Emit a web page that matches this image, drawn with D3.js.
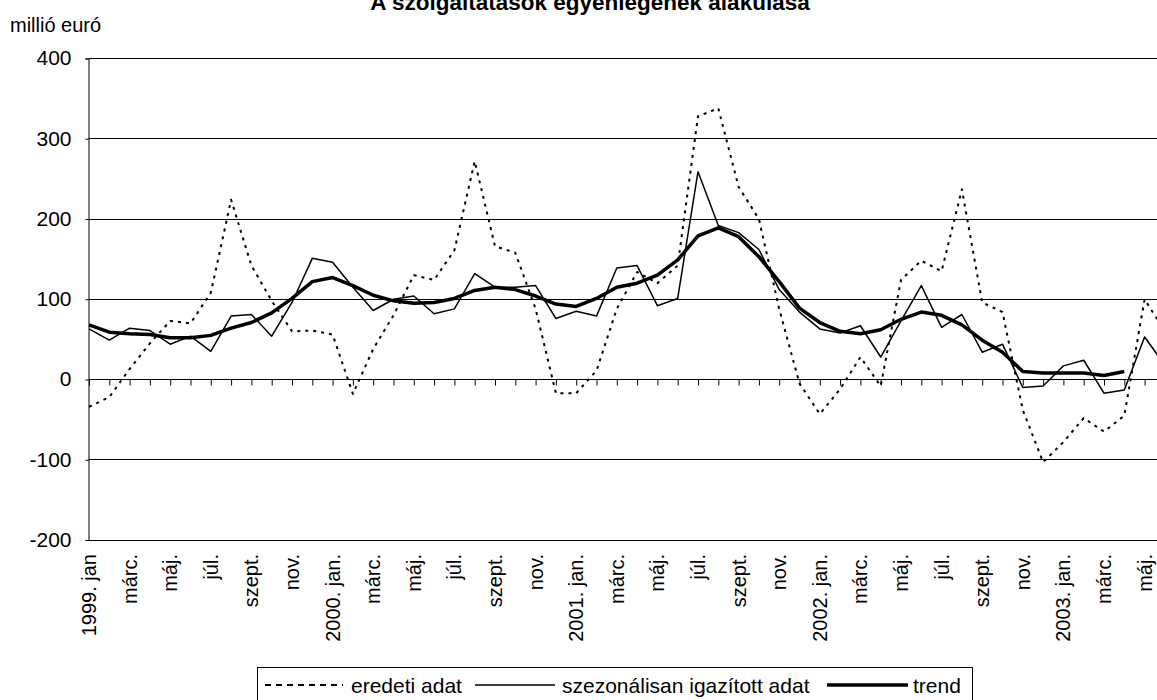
<!DOCTYPE html>
<html>
<head>
<meta charset="utf-8">
<script src="https://cdn.jsdelivr.net/npm/d3@7/dist/d3.min.js"></script>
<style>
  html, body { margin: 0; padding: 0; background: #fff; }
  svg { display: block; font-family: "Liberation Sans", Arial, sans-serif; }
</style>
</head>
<body>
<svg id="chart" width="1157" height="700"></svg>
<script>
// ---- data ----
const months = [
  "1999-01","1999-02","1999-03","1999-04","1999-05","1999-06","1999-07","1999-08","1999-09","1999-10","1999-11","1999-12",
  "2000-01","2000-02","2000-03","2000-04","2000-05","2000-06","2000-07","2000-08","2000-09","2000-10","2000-11","2000-12",
  "2001-01","2001-02","2001-03","2001-04","2001-05","2001-06","2001-07","2001-08","2001-09","2001-10","2001-11","2001-12",
  "2002-01","2002-02","2002-03","2002-04","2002-05","2002-06","2002-07","2002-08","2002-09","2002-10","2002-11","2002-12",
  "2003-01","2003-02","2003-03","2003-04","2003-05","2003-06"
];
const tickLabels = [
  "1999. jan","","márc.","","máj.","","júl.","","szept.","","nov.","",
  "2000. jan.","","márc.","","máj.","","júl.","","szept.","","nov.","",
  "2001. jan.","","márc.","","máj.","","júl.","","szept.","","nov.","",
  "2002. jan.","","márc.","","máj.","","júl.","","szept.","","nov.","",
  "2003. jan.","","márc.","","máj.",""
];
const eredeti = [
  -34,-22,13,45,73,70,108,224,142,98,60,61,
  56,-18,38,80,130,124,161,272,166,158,88,-17,
  -17,11,88,134,120,142,328,338,240,200,88,-5,
  -43,-12,28,-8,124,148,135,237,96,84,-38,-103,
  -78,-48,-65,-45,100,60
];
const szezonalis = [
  63,49,64,61,44,54,35,79,81,54,96,151,
  146,115,86,100,104,82,88,132,115,115,117,76,
  85,79,139,142,92,101,259,192,183,162,112,84,
  63,58,67,28,73,117,65,81,34,44,-10,-8,
  17,24,-17,-13,53,18
];
const trend = [
  68,59,57,56,52,52,55,64,71,83,101,122,
  127,117,105,98,95,96,101,111,115,112,104,94,
  91,101,115,120,130,149,179,189,178,153,122,89,
  71,60,57,62,75,84,80,68,49,34,10,8,
  8,8,5,10,null,null
];
const yTicks = [400,300,200,100,0,-100,-200];
const title = "A szolgáltatások egyenlegének alakulása";
const unitLabel = "millió euró";
const legendItems = [
  {name: "eredeti adat", key: "eredeti"},
  {name: "szezonálisan igazított adat", key: "szezonalis"},
  {name: "trend", key: "trend"}
];

// ---- layout ----
const svg = d3.select("#chart");
const plotLeft = 88.5, plotTop = 58.5, plotBottom = 540, plotRight = 1200;
const x = d3.scalePoint().domain(months).range([89, 89 + 20.3 * (months.length - 1)]).padding(0);
const y = d3.scaleLinear().domain([-200, 400]).range([plotBottom, plotTop]);

const styles = {
  eredeti:   {w: 2, dash: "3,5"},
  szezonalis:{w: 1.5, dash: null},
  trend:     {w: 3.5, dash: null}
};

// title
svg.append("text").attr("x", 590).attr("y", 10).attr("text-anchor", "middle")
  .attr("font-weight", "bold").attr("font-size", 22.5).text(title);
// unit
svg.append("text").attr("x", 10).attr("y", 31.5).attr("font-size", 20).text(unitLabel);

// gridlines
svg.append("g").selectAll("line").data(yTicks.filter(d => d !== 0)).join("line")
  .attr("x1", plotLeft).attr("x2", plotRight)
  .attr("y1", d => Math.floor(y(d)) + 0.5).attr("y2", d => Math.floor(y(d)) + 0.5)
  .attr("stroke", "#000").attr("stroke-width", 1);

// y axis
const yAxis = d3.axisLeft(y).tickValues(yTicks).tickSize(3).tickPadding(14).tickFormat(d => String(d));
const gy = svg.append("g").attr("transform", `translate(${plotLeft},0)`).call(yAxis);
gy.select(".domain").attr("stroke", "#000");
gy.selectAll("text").attr("font-size", 21).attr("fill", "#000").attr("dy", "0.3em")
  .attr("font-family", "Liberation Sans, Arial, sans-serif");

// zero axis with ticks
const y0 = Math.floor(y(0)) + 0.5;
const xAxis = d3.axisBottom(x).tickSize(6).tickFormat("");
const gx = svg.append("g").attr("transform", `translate(0,${y0})`).call(xAxis);
gx.select(".domain").attr("d", `M${plotLeft},0H${plotRight}`).attr("stroke", "#000");
gx.selectAll(".tick line").attr("stroke", "#000");

// x labels
svg.append("g").selectAll("text").data(months.map((m, i) => ({m, l: tickLabels[i]})).filter(d => d.l))
  .join("text")
  .attr("transform", d => `translate(${x(d.m)},554) rotate(-90)`)
  .attr("text-anchor", "end").attr("dy", "0.35em").attr("font-size", 20).text(d => d.l);

// lines
const seriesData = {eredeti, szezonalis, trend};
svg.append("defs").append("clipPath").attr("id", "plotclip")
  .append("rect").attr("x", plotLeft).attr("y", 0).attr("width", plotRight - plotLeft).attr("height", 700);
function drawSeries(key) {
  const vals = seriesData[key];
  const line = d3.line().defined(d => d.v !== null).x(d => x(d.m)).y(d => y(d.v));
  const p = svg.append("path").datum(months.map((m, i) => ({m, v: vals[i]})))
    .attr("d", line).attr("fill", "none").attr("stroke", "#000")
    .attr("stroke-width", styles[key].w).attr("stroke-linejoin", "round")
    .attr("clip-path", "url(#plotclip)");
  if (styles[key].dash) p.attr("stroke-dasharray", styles[key].dash);
}
drawSeries("eredeti");
drawSeries("szezonalis");
drawSeries("trend");

// legend
const lg = svg.append("g");
lg.append("rect").attr("x", 257.5).attr("y", 667.5).attr("width", 715).attr("height", 50)
  .attr("fill", "#fff").attr("stroke", "#000");
const legendPos = [
  {x1: 265, x2: 343, tx: 351},
  {x1: 475, x2: 555, tx: 562},
  {x1: 827, x2: 908, tx: 913}
];
legendItems.forEach((it, i) => {
  const p = legendPos[i];
  const l = lg.append("line").attr("x1", p.x1).attr("x2", p.x2).attr("y1", 685).attr("y2", 685)
    .attr("stroke", "#000").attr("stroke-width", styles[it.key].w);
  if (it.key === "eredeti") l.attr("stroke-dasharray", "6,5").attr("stroke-width", 2);
  lg.append("text").attr("x", p.tx).attr("y", 692.5).attr("font-size", 21).text(it.name);
});
</script>
</body>
</html>
